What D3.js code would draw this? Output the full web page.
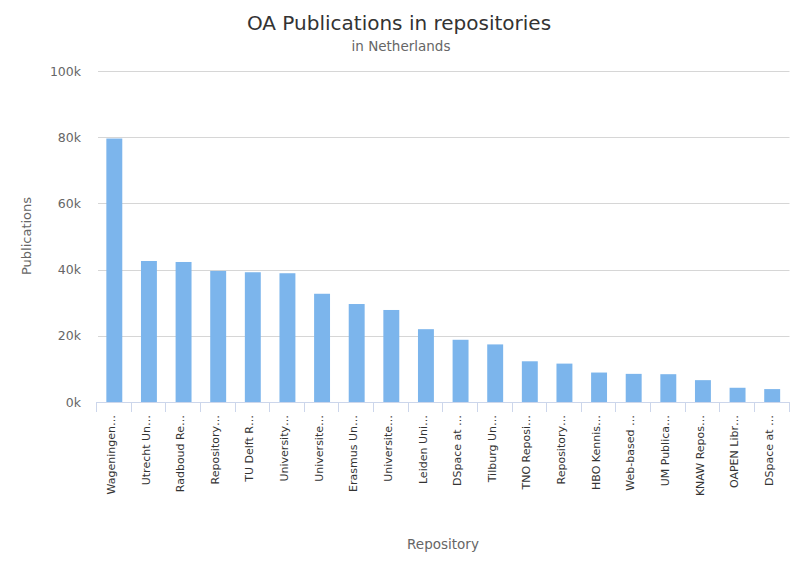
<!DOCTYPE html>
<html>
<head>
<meta charset="utf-8">
<script src="https://cdn.jsdelivr.net/npm/d3@7"></script>
<style>
  body { margin: 0; background: #fff; }
  svg { display: block; font-family: "DejaVu Sans", sans-serif; }
</style>
</head>
<body>
<svg id="chart" width="800" height="572"></svg>
<script>
// repositories (labels as shown, already truncated on the axis)
const repositories = [
  "Wageningen…", "Utrecht Un…", "Radboud Re…", "Repository…", "TU Delft R…",
  "University…", "Universite…", "Erasmus Un…", "Universite…", "Leiden Uni…",
  "DSpace at …", "Tilburg Un…", "TNO Reposi…", "Repository…", "HBO Kennis…",
  "Web-based …", "UM Publica…", "KNAW Repos…", "OAPEN Libr…", "DSpace at …"
];
const publications = [
  79600, 42600, 42300, 39600, 39200,
  38900, 32700, 29600, 27800, 22000,
  18800, 17400, 12300, 11600, 8900,
  8500, 8400, 6600, 4300, 3900
];
const yTicks = [0, 20000, 40000, 60000, 80000, 100000];

const svg = d3.select("#chart");
const plot = { left: 97, right: 789.5, top: 71, bottom: 402 };

svg.append("rect").attr("width", 800).attr("height", 572).attr("fill", "#fff");

const x = d3.scaleBand()
  .domain(d3.range(repositories.length))
  .range([plot.left, plot.right])
  .padding(0);

const y = d3.scaleLinear()
  .domain([0, 100000])
  .range([plot.bottom, plot.top]);

// gridlines
svg.append("g")
  .selectAll("line")
  .data(yTicks.filter(d => d > 0))
  .enter().append("line")
  .attr("x1", plot.left + 1)
  .attr("x2", plot.right)
  .attr("y1", d => Math.round(y(d)) + 0.5)
  .attr("y2", d => Math.round(y(d)) + 0.5)
  .attr("stroke", "#d6d6d6")
  .attr("stroke-width", 1);

// y axis labels
const yAxis = svg.append("g")
  .attr("transform", `translate(${plot.left},0)`)
  .call(d3.axisLeft(y).tickValues(yTicks).tickSize(0).tickPadding(16)
    .tickFormat(d => (d / 1000) + "k"));
yAxis.select(".domain").remove();
yAxis.selectAll("text")
  .attr("font-family", "DejaVu Sans")
  .attr("font-size", 12.5)
  .attr("fill", "#666");

// bars
const barW = x.bandwidth() * 0.46;
svg.append("g")
  .selectAll("rect")
  .data(publications)
  .enter().append("rect")
  .attr("x", (d, i) => x(i) + (x.bandwidth() - barW) / 2)
  .attr("y", d => y(d))
  .attr("width", barW)
  .attr("height", d => y(0) - y(d))
  .attr("fill", "#7cb5ec");

// x axis line and boundary ticks
const xAxisG = svg.append("g");
xAxisG.append("line")
  .attr("x1", plot.left).attr("x2", plot.right)
  .attr("y1", plot.bottom + 0.5).attr("y2", plot.bottom + 0.5)
  .attr("stroke", "#ccd6eb");
xAxisG.selectAll("line.tick")
  .data(d3.range(repositories.length + 1))
  .enter().append("line")
  .attr("class", "tick")
  .attr("x1", i => Math.round(i < repositories.length ? x(i) : plot.right) - 0.5)
  .attr("x2", i => Math.round(i < repositories.length ? x(i) : plot.right) - 0.5)
  .attr("y1", plot.bottom)
  .attr("y2", plot.bottom + 10)
  .attr("stroke", "#ccd6eb");

const xAxis = svg.append("g")
  .attr("transform", `translate(0,${plot.bottom})`)
  .call(d3.axisBottom(x).tickSize(0).tickFormat(i => repositories[i]));
xAxis.select(".domain").remove();
xAxis.selectAll("text")
  .attr("transform", "rotate(-90)")
  .attr("x", -13)
  .attr("y", 0)
  .attr("dy", "0.05em")
  .attr("text-anchor", "end")
  .attr("font-family", "DejaVu Sans")
  .attr("font-size", 11)
  .attr("fill", "#333");

// titles
svg.append("text")
  .attr("x", 399).attr("y", 30)
  .attr("text-anchor", "middle")
  .attr("font-size", 20)
  .attr("fill", "#333")
  .text("OA Publications in repositories");

svg.append("text")
  .attr("x", 401).attr("y", 51)
  .attr("text-anchor", "middle")
  .attr("font-size", 13.5)
  .attr("fill", "#666")
  .text("in Netherlands");

svg.append("text")
  .attr("transform", "translate(31,236) rotate(-90)")
  .attr("text-anchor", "middle")
  .attr("font-size", 13)
  .attr("fill", "#666")
  .text("Publications");

svg.append("text")
  .attr("x", 443).attr("y", 549)
  .attr("text-anchor", "middle")
  .attr("font-size", 13.5)
  .attr("fill", "#666")
  .text("Repository");
</script>
</body>
</html>
